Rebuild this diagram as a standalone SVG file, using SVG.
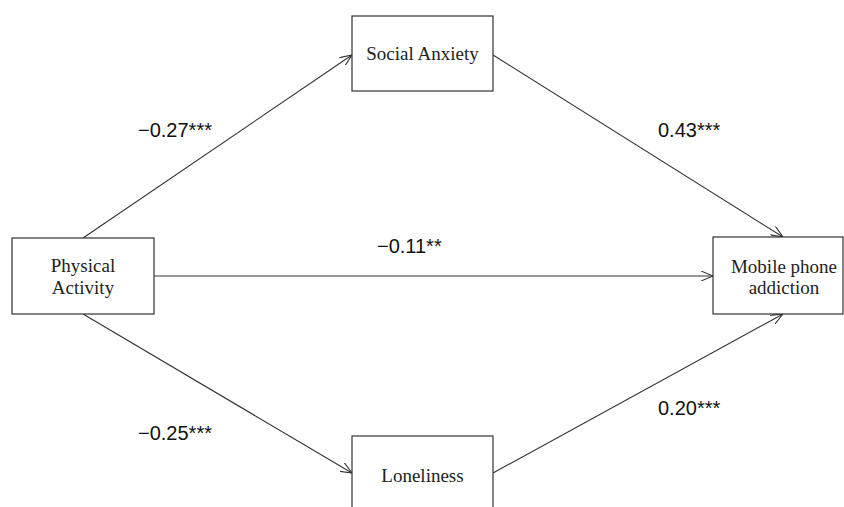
<svg xmlns="http://www.w3.org/2000/svg" width="844" height="507" viewBox="0 0 844 507">
<style>
.box{fill:#fff;stroke:#333;stroke-width:1.2}
.nt{font-family:"Liberation Serif","Times New Roman",serif;font-size:19px;fill:#222;text-anchor:middle}
.lb{font-family:"Liberation Sans",Arial,sans-serif;font-size:20px;fill:#111}
.cn line{stroke:#333;stroke-width:1.1;marker-end:url(#ah)}
</style>
<defs>
<marker id="ah" viewBox="0 0 12 10" refX="12" refY="5" markerWidth="12" markerHeight="10" markerUnits="userSpaceOnUse" orient="auto">
<path d="M0,0 L12,5 L0,10" fill="none" stroke="#333" stroke-width="1.1"/>
</marker>
</defs>
<rect width="844" height="507" fill="#fff"/>
<g id="connectors" class="cn">
<line x1="83" y1="238" x2="352" y2="55"/>
<line x1="493" y1="55" x2="783" y2="237"/>
<line x1="154" y1="276" x2="713" y2="276"/>
<line x1="83" y1="314" x2="352" y2="473"/>
<line x1="493" y1="473" x2="783" y2="314"/>
</g>
<g id="physical-activity">
<rect class="box" x="12" y="238" width="142" height="76"/>
<text class="nt" x="83" y="272">Physical</text>
<text class="nt" x="83" y="294">Activity</text>
</g>
<g id="social-anxiety">
<rect class="box" x="352" y="16" width="141" height="75"/>
<text class="nt" x="422.5" y="60">Social Anxiety</text>
</g>
<g id="mobile-phone-addiction">
<rect class="box" x="713" y="237" width="130" height="77"/>
<text class="nt" x="784" y="273">Mobile phone</text>
<text class="nt" x="784" y="294">addiction</text>
</g>
<g id="loneliness">
<rect class="box" x="352" y="436" width="141" height="80"/>
<text class="nt" x="422.5" y="482">Loneliness</text>
</g>
<g id="labels">
<text class="lb" x="138" y="137">−0.27***</text>
<text class="lb" x="658" y="137">0.43***</text>
<text class="lb" x="377" y="253">−0.11**</text>
<text class="lb" x="138" y="440">−0.25***</text>
<text class="lb" x="658" y="415">0.20***</text>
</g>
</svg>
